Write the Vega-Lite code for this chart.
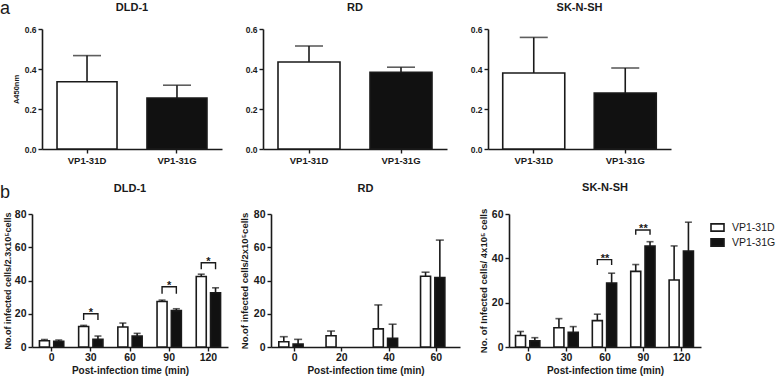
{
  "$schema": "https://vega.github.io/schema/vega-lite/v6.json",
  "background": "white",
  "padding": {"left": 0, "top": 0, "right": 0, "bottom": 0},
  "config": {
    "font": "Liberation Sans",
    "view": {"stroke": null},
    "axis": {
      "grid": false,
      "labelOverlap": false,
      "domainColor": "#1a1a1a", "domainWidth": 1.6,
      "tickColor": "#1a1a1a", "tickWidth": 1.4, "tickSize": 4,
      "labelColor": "#1a1a1a", "labelFontWeight": "bold", "labelPadding": 2,
      "titleColor": "#1a1a1a", "titleFontWeight": "bold"
    },
    "axisX": {"labelAngle": 0},
    "title": {"fontSize": 11, "fontWeight": "bold", "color": "#1a1a1a"},
    "bar": {"stroke": "#1a1a1a", "strokeWidth": 1.6},
    "rule": {"color": "#1a1a1a", "strokeWidth": 1.6},
    "tick": {"color": "#1a1a1a", "thickness": 1.6},
    "line": {"color": "#1a1a1a", "strokeWidth": 1.4},
    "text": {"color": "#1a1a1a", "fontWeight": "bold"}
  },
  "datasets": {
    "absorbance": [
      {"cell": "DLD-1", "group": "VP1-31D", "mean": 0.336, "upper": 0.467},
      {"cell": "DLD-1", "group": "VP1-31G", "mean": 0.255, "upper": 0.319},
      {"cell": "RD", "group": "VP1-31D", "mean": 0.435, "upper": 0.515},
      {"cell": "RD", "group": "VP1-31G", "mean": 0.383, "upper": 0.409},
      {"cell": "SK-N-SH", "group": "VP1-31D", "mean": 0.38, "upper": 0.558},
      {"cell": "SK-N-SH", "group": "VP1-31G", "mean": 0.28, "upper": 0.405}
    ],
    "dld": [
      {"time": 0, "group": "VP1-31D", "mean": 3.8, "upper": 4.5},
      {"time": 0, "group": "VP1-31G", "mean": 3.5, "upper": 4.2},
      {"time": 30, "group": "VP1-31D", "mean": 12.3, "upper": 13.0},
      {"time": 30, "group": "VP1-31G", "mean": 4.6, "upper": 6.6},
      {"time": 60, "group": "VP1-31D", "mean": 12.0, "upper": 14.4},
      {"time": 60, "group": "VP1-31G", "mean": 6.6, "upper": 8.2},
      {"time": 90, "group": "VP1-31D", "mean": 27.4, "upper": 28.2},
      {"time": 90, "group": "VP1-31G", "mean": 21.9, "upper": 23.0},
      {"time": 120, "group": "VP1-31D", "mean": 42.4, "upper": 43.8},
      {"time": 120, "group": "VP1-31G", "mean": 32.6, "upper": 35.6}
    ],
    "rd": [
      {"time": 0, "group": "VP1-31D", "mean": 3.2, "upper": 6.2},
      {"time": 0, "group": "VP1-31G", "mean": 1.8, "upper": 4.6},
      {"time": 20, "group": "VP1-31D", "mean": 6.8, "upper": 9.6},
      {"time": 40, "group": "VP1-31D", "mean": 10.9, "upper": 25.3},
      {"time": 40, "group": "VP1-31G", "mean": 5.2, "upper": 13.7},
      {"time": 60, "group": "VP1-31D", "mean": 42.6, "upper": 45.0},
      {"time": 60, "group": "VP1-31G", "mean": 41.8, "upper": 64.3}
    ],
    "sk": [
      {"time": 0, "group": "VP1-31D", "mean": 5.2, "upper": 7.0},
      {"time": 0, "group": "VP1-31G", "mean": 2.8, "upper": 4.2},
      {"time": 30, "group": "VP1-31D", "mean": 8.7, "upper": 12.8},
      {"time": 30, "group": "VP1-31G", "mean": 6.6, "upper": 9.2},
      {"time": 60, "group": "VP1-31D", "mean": 11.9, "upper": 14.8},
      {"time": 60, "group": "VP1-31G", "mean": 28.9, "upper": 33.3},
      {"time": 90, "group": "VP1-31D", "mean": 34.1, "upper": 37.2},
      {"time": 90, "group": "VP1-31G", "mean": 45.5, "upper": 47.5},
      {"time": 120, "group": "VP1-31D", "mean": 30.2, "upper": 45.6},
      {"time": 120, "group": "VP1-31G", "mean": 43.3, "upper": 56.3}
    ],
    "dld_brackets": [
      {"time": 30, "pair": "t30", "group": "VP1-31D", "step": 1, "y": 16.3},
      {"time": 30, "pair": "t30", "group": "VP1-31D", "step": 2, "y": 20.0},
      {"time": 30, "pair": "t30", "group": "VP1-31G", "step": 3, "y": 20.0},
      {"time": 30, "pair": "t30", "group": "VP1-31G", "step": 4, "y": 16.3},
      {"time": 90, "pair": "t90", "group": "VP1-31D", "step": 1, "y": 32.0},
      {"time": 90, "pair": "t90", "group": "VP1-31D", "step": 2, "y": 36.2},
      {"time": 90, "pair": "t90", "group": "VP1-31G", "step": 3, "y": 36.2},
      {"time": 90, "pair": "t90", "group": "VP1-31G", "step": 4, "y": 32.0},
      {"time": 120, "pair": "t120", "group": "VP1-31D", "step": 1, "y": 46.8},
      {"time": 120, "pair": "t120", "group": "VP1-31D", "step": 2, "y": 50.7},
      {"time": 120, "pair": "t120", "group": "VP1-31G", "step": 3, "y": 50.7},
      {"time": 120, "pair": "t120", "group": "VP1-31G", "step": 4, "y": 46.8}
    ],
    "dld_stars": [
      {"time": 30, "y": 20.0, "label": "*"},
      {"time": 90, "y": 36.2, "label": "*"},
      {"time": 120, "y": 50.7, "label": "*"}
    ],
    "sk_brackets": [
      {"time": 60, "pair": "t60", "group": "VP1-31D", "step": 1, "y": 37.0},
      {"time": 60, "pair": "t60", "group": "VP1-31D", "step": 2, "y": 39.4},
      {"time": 60, "pair": "t60", "group": "VP1-31G", "step": 3, "y": 39.4},
      {"time": 60, "pair": "t60", "group": "VP1-31G", "step": 4, "y": 37.0},
      {"time": 90, "pair": "t90", "group": "VP1-31D", "step": 1, "y": 50.6},
      {"time": 90, "pair": "t90", "group": "VP1-31D", "step": 2, "y": 52.8},
      {"time": 90, "pair": "t90", "group": "VP1-31G", "step": 3, "y": 52.8},
      {"time": 90, "pair": "t90", "group": "VP1-31G", "step": 4, "y": 50.6}
    ],
    "sk_stars": [
      {"time": 60, "y": 39.4, "label": "**"},
      {"time": 90, "y": 52.8, "label": "**"}
    ]
  },
  "spacing": 17,
  "align": "none",
  "resolve": {"scale": {"fill": "independent"}, "legend": {"fill": "independent"}},
  "vconcat": [
    {
      "spacing": 23,
      "align": "none",
      "resolve": {"scale": {"fill": "independent"}, "legend": {"fill": "independent"}},
      "hconcat": [
        {
          "spacing": 1,
          "align": "none",
          "resolve": {"scale": {"fill": "independent"}, "legend": {"fill": "independent"}},
          "hconcat": [
            {
              "width": 1, "height": 120,
              "title": {"text": "a", "anchor": "start", "fontSize": 18, "fontWeight": "normal", "offset": 11},
              "data": {"values": []},
              "mark": "text"
            },
            {
              "width": 180, "height": 120,
              "title": {"text": "DLD-1", "offset": 12},
              "data": {"name": "absorbance"},
              "transform": [{"filter": "datum.cell === 'DLD-1'"}],
              "encoding": {
                "x": {"field": "group", "type": "nominal", "scale": {"paddingInner": 0.333, "paddingOuter": 0.167}, "axis": {"title": null, "labelFontSize": 9.5}}
              },
              "layer": [
                {"mark": "bar", "encoding": {
                  "y": {"field": "mean", "type": "quantitative", "scale": {"domain": [0, 0.6]}, "axis": {"values": [0, 0.2, 0.4, 0.6], "labelOverlap": false, "format": ".1f", "title": "A450nm", "titleFontSize": 7.5, "labelFontSize": 8.5, "titlePadding": 4}},
                  "fill": {"field": "group", "type": "nominal", "scale": {"domain": ["VP1-31D", "VP1-31G"], "range": ["#ffffff", "#111111"]}, "legend": null}
                }},
                {"mark": "rule", "encoding": {"y": {"field": "mean", "type": "quantitative", "axis": {"values": [0, 0.2, 0.4, 0.6], "labelOverlap": false, "format": ".1f", "title": "A450nm", "titleFontSize": 7.5, "labelFontSize": 8.5, "titlePadding": 4}}, "y2": {"field": "upper"}}},
                {"mark": {"type": "tick", "size": 28}, "encoding": {"y": {"field": "upper", "type": "quantitative", "axis": {"values": [0, 0.2, 0.4, 0.6], "labelOverlap": false, "format": ".1f", "title": "A450nm", "titleFontSize": 7.5, "labelFontSize": 8.5, "titlePadding": 4}}}}
              ]
            }
          ]
        },
        {
          "width": 184, "height": 120,
          "title": {"text": "RD", "offset": 12},
          "data": {"name": "absorbance"},
          "transform": [{"filter": "datum.cell === 'RD'"}],
          "encoding": {
            "x": {"field": "group", "type": "nominal", "scale": {"paddingInner": 0.326, "paddingOuter": 0.163}, "axis": {"title": null, "labelFontSize": 9.5}}
          },
          "layer": [
            {"mark": "bar", "encoding": {
              "y": {"field": "mean", "type": "quantitative", "scale": {"domain": [0, 0.6]}, "axis": {"values": [0, 0.2, 0.4, 0.6], "labelOverlap": false, "format": ".1f", "title": null, "labelFontSize": 8.5}},
              "fill": {"field": "group", "type": "nominal", "scale": {"domain": ["VP1-31D", "VP1-31G"], "range": ["#ffffff", "#111111"]}, "legend": null}
            }},
            {"mark": "rule", "encoding": {"y": {"field": "mean", "type": "quantitative", "axis": {"values": [0, 0.2, 0.4, 0.6], "labelOverlap": false, "format": ".1f", "title": null, "labelFontSize": 8.5}}, "y2": {"field": "upper"}}},
            {"mark": {"type": "tick", "size": 28}, "encoding": {"y": {"field": "upper", "type": "quantitative", "axis": {"values": [0, 0.2, 0.4, 0.6], "labelOverlap": false, "format": ".1f", "title": null, "labelFontSize": 8.5}}}}
          ]
        },
        {
          "width": 183, "height": 120,
          "title": {"text": "SK-N-SH", "offset": 12},
          "data": {"name": "absorbance"},
          "transform": [{"filter": "datum.cell === 'SK-N-SH'"}],
          "encoding": {
            "x": {"field": "group", "type": "nominal", "scale": {"paddingInner": 0.322, "paddingOuter": 0.161}, "axis": {"title": null, "labelFontSize": 9.5}}
          },
          "layer": [
            {"mark": "bar", "encoding": {
              "y": {"field": "mean", "type": "quantitative", "scale": {"domain": [0, 0.6]}, "axis": {"values": [0, 0.2, 0.4, 0.6], "labelOverlap": false, "format": ".1f", "title": null, "labelFontSize": 8.5}},
              "fill": {"field": "group", "type": "nominal", "scale": {"domain": ["VP1-31D", "VP1-31G"], "range": ["#ffffff", "#111111"]}, "legend": null}
            }},
            {"mark": "rule", "encoding": {"y": {"field": "mean", "type": "quantitative", "axis": {"values": [0, 0.2, 0.4, 0.6], "labelOverlap": false, "format": ".1f", "title": null, "labelFontSize": 8.5}}, "y2": {"field": "upper"}}},
            {"mark": {"type": "tick", "size": 28}, "encoding": {"y": {"field": "upper", "type": "quantitative", "axis": {"values": [0, 0.2, 0.4, 0.6], "labelOverlap": false, "format": ".1f", "title": null, "labelFontSize": 8.5}}}}
          ]
        }
      ]
    },
    {
      "spacing": 11,
      "align": "none",
      "resolve": {"scale": {"fill": "independent"}, "legend": {"fill": "independent"}},
      "hconcat": [
        {
          "spacing": -8,
          "align": "none",
          "resolve": {"scale": {"fill": "independent"}, "legend": {"fill": "independent"}},
          "hconcat": [
            {
              "width": 1, "height": 133,
              "title": {"text": "b", "anchor": "start", "fontSize": 18, "fontWeight": "normal", "offset": 12},
              "data": {"values": []},
              "mark": "text"
            },
            {
              "width": 196, "height": 133,
              "title": {"text": "DLD-1", "offset": 15},
              "layer": [
                {"data": {"name": "dld"}, "mark": "bar", "encoding": {
                  "x": {"field": "time", "type": "ordinal", "scale": {"paddingInner": 0.38, "paddingOuter": 0.19}, "axis": {"title": "Post-infection time (min)", "labelFontSize": 10.5, "labelPadding": 1, "titleFontSize": 10, "titlePadding": 3}},
                  "xOffset": {"field": "group", "type": "nominal", "scale": {"paddingInner": 0.3}},
                  "y": {"field": "mean", "type": "quantitative", "scale": {"domain": [0, 80]}, "axis": {"values": [0, 20, 40, 60, 80], "labelOverlap": false, "title": "No.of infected cells/2.3x10⁵cells", "titleFontSize": 9, "labelFontSize": 10.5, "titlePadding": 2}},
                  "fill": {"field": "group", "type": "nominal", "scale": {"domain": ["VP1-31D", "VP1-31G"], "range": ["#ffffff", "#111111"]}, "legend": null}
                }},
                {"data": {"name": "dld"}, "mark": "rule", "encoding": {
                  "x": {"field": "time", "type": "ordinal"},
                  "xOffset": {"field": "group", "type": "nominal"},
                  "y": {"field": "mean", "type": "quantitative", "axis": {"values": [0, 20, 40, 60, 80], "labelOverlap": false, "title": "No.of infected cells/2.3x10⁵cells", "titleFontSize": 9, "labelFontSize": 10.5, "titlePadding": 2}},
                  "y2": {"field": "upper"}
                }},
                {"data": {"name": "dld"}, "mark": {"type": "tick", "size": 7}, "encoding": {
                  "x": {"field": "time", "type": "ordinal"},
                  "xOffset": {"field": "group", "type": "nominal"},
                  "y": {"field": "upper", "type": "quantitative", "axis": {"values": [0, 20, 40, 60, 80], "labelOverlap": false, "title": "No.of infected cells/2.3x10⁵cells", "titleFontSize": 9, "labelFontSize": 10.5, "titlePadding": 2}}
                }},
                {"data": {"name": "dld_brackets"}, "mark": "line", "encoding": {
                  "x": {"field": "time", "type": "ordinal"},
                  "xOffset": {"field": "group", "type": "nominal"},
                  "y": {"field": "y", "type": "quantitative", "axis": {"values": [0, 20, 40, 60, 80], "labelOverlap": false, "title": "No.of infected cells/2.3x10⁵cells", "titleFontSize": 9, "labelFontSize": 10.5, "titlePadding": 2}},
                  "detail": {"field": "pair"},
                  "order": {"field": "step"}
                }},
                {"data": {"name": "dld_stars"}, "mark": {"type": "text", "fontSize": 11, "baseline": "alphabetic", "dy": 2}, "encoding": {
                  "x": {"field": "time", "type": "ordinal"},
                  "y": {"field": "y", "type": "quantitative", "axis": {"values": [0, 20, 40, 60, 80], "labelOverlap": false, "title": "No.of infected cells/2.3x10⁵cells", "titleFontSize": 9, "labelFontSize": 10.5, "titlePadding": 2}},
                  "text": {"field": "label"}
                }}
              ]
            }
          ]
        },
        {
          "spacing": 18,
          "align": "none",
          "resolve": {"scale": {"fill": "independent"}, "legend": {"fill": "independent"}},
          "hconcat": [
            {
              "width": 189, "height": 133,
              "title": {"text": "RD", "offset": 15},
              "layer": [
                {"data": {"name": "rd"}, "mark": "bar", "encoding": {
                  "x": {"field": "time", "type": "ordinal", "scale": {"paddingInner": 0.33, "paddingOuter": 0.165}, "axis": {"title": "Post-infection time (min)", "labelFontSize": 10.5, "labelPadding": 1, "titleFontSize": 10, "titlePadding": 3}},
                  "xOffset": {"field": "group", "type": "nominal", "scale": {"paddingInner": 0.23}},
                  "y": {"field": "mean", "type": "quantitative", "scale": {"domain": [0, 80]}, "axis": {"values": [0, 20, 40, 60, 80], "labelOverlap": false, "title": "No.of infected cells/2x10⁵cells", "titleFontSize": 9.5, "labelFontSize": 10.5, "titlePadding": 4}},
                  "fill": {"field": "group", "type": "nominal", "scale": {"domain": ["VP1-31D", "VP1-31G"], "range": ["#ffffff", "#111111"]}, "legend": null}
                }},
                {"data": {"name": "rd"}, "mark": "rule", "encoding": {
                  "x": {"field": "time", "type": "ordinal"},
                  "xOffset": {"field": "group", "type": "nominal"},
                  "y": {"field": "mean", "type": "quantitative", "axis": {"values": [0, 20, 40, 60, 80], "labelOverlap": false, "title": "No.of infected cells/2x10⁵cells", "titleFontSize": 9.5, "labelFontSize": 10.5, "titlePadding": 4}},
                  "y2": {"field": "upper"}
                }},
                {"data": {"name": "rd"}, "mark": {"type": "tick", "size": 8}, "encoding": {
                  "x": {"field": "time", "type": "ordinal"},
                  "xOffset": {"field": "group", "type": "nominal"},
                  "y": {"field": "upper", "type": "quantitative", "axis": {"values": [0, 20, 40, 60, 80], "labelOverlap": false, "title": "No.of infected cells/2x10⁵cells", "titleFontSize": 9.5, "labelFontSize": 10.5, "titlePadding": 4}}
                }}
              ]
            },
            {
              "width": 192, "height": 133,
              "title": {"text": "SK-N-SH", "offset": 15},
              "layer": [
                {"data": {"name": "sk"}, "mark": "bar", "encoding": {
                  "x": {"field": "time", "type": "ordinal", "scale": {"paddingInner": 0.34, "paddingOuter": 0.17}, "axis": {"title": "Post-infection time (min)", "labelFontSize": 10.5, "labelPadding": 1, "titleFontSize": 10, "titlePadding": 3}},
                  "xOffset": {"field": "group", "type": "nominal", "scale": {"paddingInner": 0.29}},
                  "y": {"field": "mean", "type": "quantitative", "scale": {"domain": [0, 60]}, "axis": {"values": [0, 20, 40, 60], "labelOverlap": false, "title": "No. of Infected cells/ 4x10⁵ cells", "titleFontSize": 9.5, "labelFontSize": 10.5, "titlePadding": 3}},
                  "fill": {"field": "group", "type": "nominal", "scale": {"domain": ["VP1-31D", "VP1-31G"], "range": ["#ffffff", "#111111"]}, "legend": {"title": null, "orient": "right", "offset": 3, "padding": 6, "symbolType": "M-1,-0.56H1V0.56H-1Z", "symbolSize": 169, "symbolStrokeColor": "#1a1a1a", "symbolStrokeWidth": 1.5, "labelFontSize": 10.5, "labelColor": "#1a1a1a", "labelOffset": 7, "rowPadding": 0}}
                }},
                {"data": {"name": "sk"}, "mark": "rule", "encoding": {
                  "x": {"field": "time", "type": "ordinal"},
                  "xOffset": {"field": "group", "type": "nominal"},
                  "y": {"field": "mean", "type": "quantitative", "axis": {"values": [0, 20, 40, 60], "labelOverlap": false, "title": "No. of Infected cells/ 4x10⁵ cells", "titleFontSize": 9.5, "labelFontSize": 10.5, "titlePadding": 3}},
                  "y2": {"field": "upper"}
                }},
                {"data": {"name": "sk"}, "mark": {"type": "tick", "size": 7}, "encoding": {
                  "x": {"field": "time", "type": "ordinal"},
                  "xOffset": {"field": "group", "type": "nominal"},
                  "y": {"field": "upper", "type": "quantitative", "axis": {"values": [0, 20, 40, 60], "labelOverlap": false, "title": "No. of Infected cells/ 4x10⁵ cells", "titleFontSize": 9.5, "labelFontSize": 10.5, "titlePadding": 3}}
                }},
                {"data": {"name": "sk_brackets"}, "mark": "line", "encoding": {
                  "x": {"field": "time", "type": "ordinal"},
                  "xOffset": {"field": "group", "type": "nominal"},
                  "y": {"field": "y", "type": "quantitative", "axis": {"values": [0, 20, 40, 60], "labelOverlap": false, "title": "No. of Infected cells/ 4x10⁵ cells", "titleFontSize": 9.5, "labelFontSize": 10.5, "titlePadding": 3}},
                  "detail": {"field": "pair"},
                  "order": {"field": "step"}
                }},
                {"data": {"name": "sk_stars"}, "mark": {"type": "text", "fontSize": 11, "baseline": "alphabetic", "dy": 2}, "encoding": {
                  "x": {"field": "time", "type": "ordinal"},
                  "y": {"field": "y", "type": "quantitative", "axis": {"values": [0, 20, 40, 60], "labelOverlap": false, "title": "No. of Infected cells/ 4x10⁵ cells", "titleFontSize": 9.5, "labelFontSize": 10.5, "titlePadding": 3}},
                  "text": {"field": "label"}
                }}
              ]
            }
          ]
        }
      ]
    }
  ]
}
